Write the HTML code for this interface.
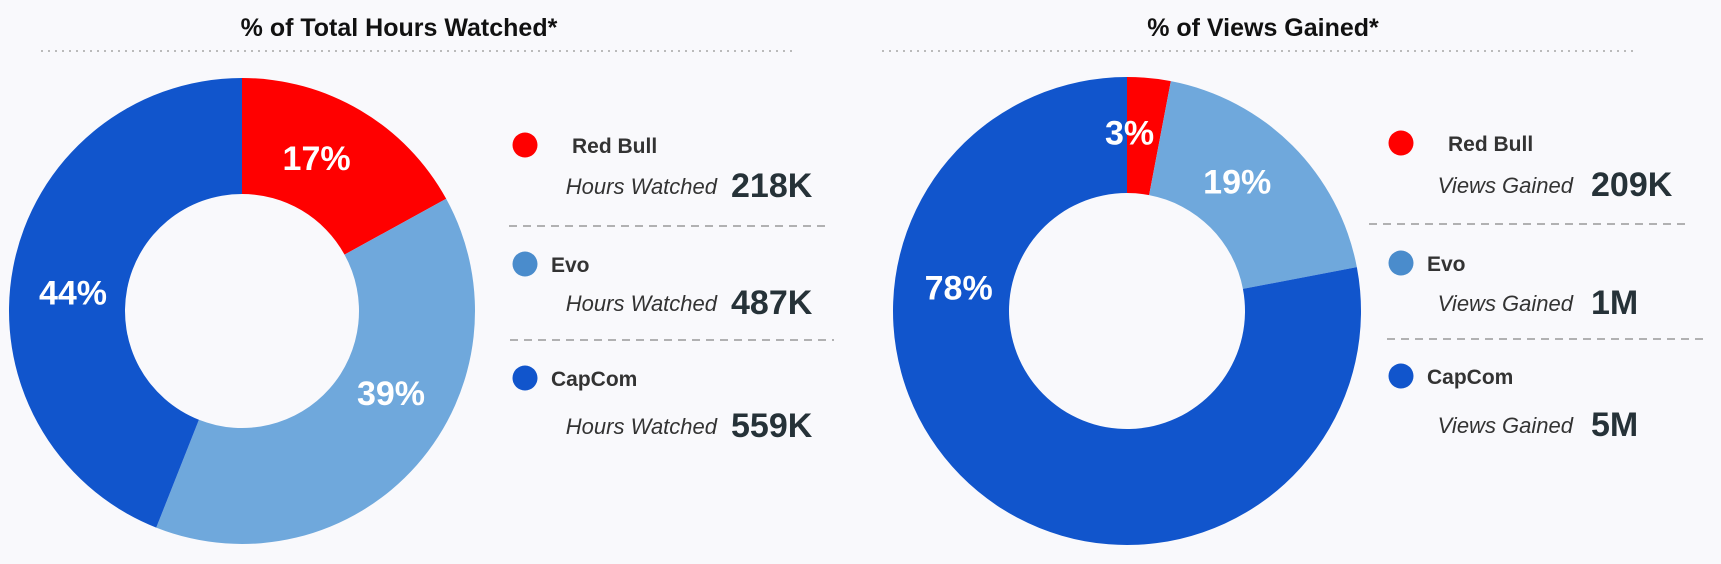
<!DOCTYPE html>
<html><head><meta charset="utf-8">
<style>
html,body{margin:0;padding:0;background:#f9f9fc;}
body{width:1721px;height:564px;overflow:hidden;font-family:"Liberation Sans",sans-serif;}
svg{display:block}
</style></head>
<body>
<svg id="chart" width="1721" height="564" viewBox="0 0 1721 564">
<g>
<text x="399" y="36" text-anchor="middle" font-size="25" font-weight="bold" fill="#111">% of Total Hours Watched*</text>
<line x1="41" y1="51" x2="795" y2="51" stroke="#bbb" stroke-width="2" stroke-dasharray="2 5"/>
<g id="leftDonut"></g>
<g id="leftLegend"></g>
</g>
<g>
<text x="1263" y="36" text-anchor="middle" font-size="25" font-weight="bold" fill="#111">% of Views Gained*</text>
<line x1="882" y1="51" x2="1633" y2="51" stroke="#bbb" stroke-width="2" stroke-dasharray="2 5"/>
<g id="rightDonut"></g>
<g id="rightLegend"></g>
</g>
</svg>
<script>
const categories = ["Red Bull", "Evo", "CapCom"];
const hoursPct = [17, 39, 44];
const viewsPct = [3, 19, 78];
const hoursValues = ["218K", "487K", "559K"];
const viewsValues = ["209K", "1M", "5M"];
const colors = ["#ff0000", "#6fa8dc", "#1155cc"];
const dotColors = ["#ff0000", "#4a8ccc", "#1155cc"];
const NS = "http://www.w3.org/2000/svg";
function mk(tag, attrs, parent){const e=document.createElementNS(NS,tag);for(const k in attrs)e.setAttribute(k,attrs[k]);parent.appendChild(e);return e;}
function pt(cx,cy,r,a){return [cx+r*Math.sin(a), cy-r*Math.cos(a)];}
function donut(g, vals, cx, cy, ro, ri, prefix){
  const total = vals.reduce((a,b)=>a+b,0);
  let acc = 0;
  const labels=[];
  vals.forEach((v,i)=>{
    const a0 = acc/total*2*Math.PI, a1=(acc+v)/total*2*Math.PI; acc+=v;
    const lg = (a1-a0)>Math.PI?1:0;
    const [x0,y0]=pt(cx,cy,ro,a0),[x1,y1]=pt(cx,cy,ro,a1),[x2,y2]=pt(cx,cy,ri,a1),[x3,y3]=pt(cx,cy,ri,a0);
    const p = mk("path",{d:`M${x0} ${y0}A${ro} ${ro} 0 ${lg} 1 ${x1} ${y1}L${x2} ${y2}A${ri} ${ri} 0 ${lg} 0 ${x3} ${y3}Z`,fill:colors[i]},g);
    
    
    let am=(a0+a1)/2;
    if (a1-a0 > Math.PI) am = 1.5*Math.PI + 0.14;
    else if (am > Math.PI/2 && am < Math.PI) am -= 0.22;
    else am -= 0.08;
    const rr = v<6 ? ri+(ro-ri)*0.52 : 170;
    labels.push([pt(cx,cy,rr,am), v, i]);
  });
  labels.forEach(([[lx,ly],v,i])=>{
    const t = mk("text",{x:lx,y:ly+12,"text-anchor":"middle","font-size":34,"font-weight":"bold",fill:"#fff"},g);
    t.textContent = v+"%";
    
    
  });
}
function legend(g, L, prefix){
  categories.forEach((c,i)=>{
    const d = mk("circle",{cx:L.dotX,cy:L.dotY[i],r:12.5,fill:dotColors[i]},g);
    
    
    const n = mk("text",{x:i===0?L.nameX0:L.nameX,y:L.dotY[i]+8,"font-size":21,"font-weight":"bold",fill:"#333"},g);
    n.textContent=c;
    
    
    const lb = mk("text",{x:L.labelRight,y:L.rowY[i],"text-anchor":"end","font-size":22,"font-style":"italic",fill:"#333"},g);
    lb.textContent=L.label;
    
    
    const vv = mk("text",{x:L.valX,y:L.rowY[i]+3,"font-size":34,"font-weight":"bold",fill:"#263238"},g);
    vv.textContent=L.values[i];
    
    
  });
  L.dashes.forEach((dl,i)=>{
    const l = mk("line",{x1:dl[0],y1:dl[2],x2:dl[1],y2:dl[2],stroke:"#999","stroke-width":1.5,"stroke-dasharray":"8 6"},g);
    
    
  });
}
donut(document.getElementById("leftDonut"), hoursPct, 242, 311, 233, 117, "hours");
donut(document.getElementById("rightDonut"), viewsPct, 1127, 311, 234, 118, "views");
legend(document.getElementById("leftLegend"),{dotX:525,dotY:[145,264,378],nameX0:572,nameX:551,labelRight:717,valX:731,rowY:[194,311,434],label:"Hours Watched",values:hoursValues,dashes:[[509,831,226],[510,834,340]]},"hours");
legend(document.getElementById("rightLegend"),{dotX:1401,dotY:[143,263,376],nameX0:1448,nameX:1427,labelRight:1573,valX:1591,rowY:[193,311,433],label:"Views Gained",values:viewsValues,dashes:[[1369,1691,224],[1387,1709,339]]},"views");
</script>
</body></html>
